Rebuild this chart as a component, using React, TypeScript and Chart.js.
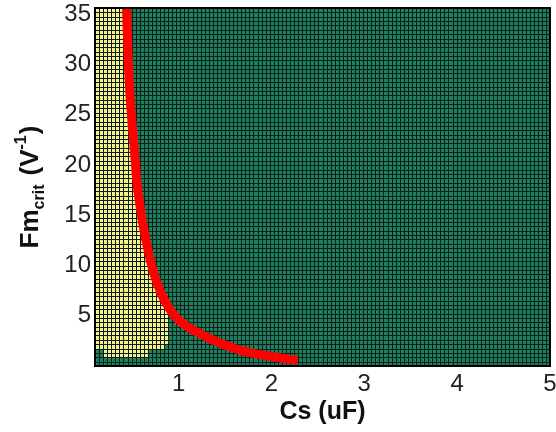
import React, { useEffect, useRef } from "react";
import { Chart, registerables } from "chart.js";

Chart.register(...registerables);

// ---- axis ranges & ticks ----
const xMin = 0.1;
const xMax = 5;
const yMin = 0;
const yMax = 35.6;
const xTicks = [1, 2, 3, 4, 5];
const yTicks = [5, 10, 15, 20, 25, 30, 35];

// ---- grid resolution of the map ----
const gridCols = 112;
const gridRows = 82;

// ---- yellow (stable) region, per Fm band: top, bottom, left Cs, right Cs ----
const bandTop = [35.6, 32, 28, 25, 22, 19, 17, 15, 13, 11.5, 10, 9, 8, 7, 6, 4.5, 2.2, 1.6];
const bandBottom = [32, 28, 25, 22, 19, 17, 15, 13, 11.5, 10, 9, 8, 7, 6, 4.5, 2.2, 1.6, 0.8];
const bandLeft = [0.1, 0.1, 0.1, 0.1, 0.1, 0.1, 0.1, 0.1, 0.1, 0.1, 0.1, 0.1, 0.1, 0.1, 0.1, 0.1, 0.1, 0.18];
const bandRight = [0.42, 0.44, 0.46, 0.48, 0.5, 0.53, 0.56, 0.59, 0.63, 0.67, 0.71, 0.75, 0.79, 0.84, 0.87, 0.9, 0.85, 0.67];

// ---- red critical curve ----
const curveCs = [0.44, 0.46, 0.48, 0.52, 0.55, 0.6, 0.66, 0.71, 0.77, 0.85, 0.94, 1.05, 1.23, 1.44, 1.73, 2.0, 2.28];
const curveFm = [35.6, 30, 26.5, 22, 18.5, 15, 12, 10, 8.2, 6.5, 5.2, 4.2, 3.2, 2.3, 1.4, 0.95, 0.55];

const FONT = '"Liberation Sans", Arial, Helvetica, sans-serif';
const GREEN = "#1f8060";
const YELLOW = "#f6f18e";
const LINE = "#0b1f18";

function isYellow(cx: number, cy: number) {
  for (let k = 0; k < bandTop.length; k++) {
    if (cy < bandTop[k] && cy >= bandBottom[k] && cx >= bandLeft[k] && cx < bandRight[k]) return true;
  }
  return false;
}

const mapPlugin = {
  id: "mapPlugin",
  beforeDatasetsDraw(chart: any) {
    const { ctx, scales } = chart;
    const xs = scales.x;
    const ys = scales.y;
    const dx = (xMax - xMin) / gridCols;
    const dy = (yMax - yMin) / gridRows;
    ctx.save();
    for (let i = 0; i < gridCols; i++) {
      const x0 = Math.round(xs.getPixelForValue(xMin + i * dx));
      const x1 = Math.round(xs.getPixelForValue(xMin + (i + 1) * dx));
      const cx = xMin + (i + 0.5) * dx;
      for (let j = 0; j < gridRows; j++) {
        const y0 = Math.round(ys.getPixelForValue(yMin + (j + 1) * dy));
        const y1 = Math.round(ys.getPixelForValue(yMin + j * dy));
        const cy = yMin + (j + 0.5) * dy;
        ctx.fillStyle = isYellow(cx, cy) ? YELLOW : GREEN;
        ctx.fillRect(x0, y0, x1 - x0, y1 - y0);
      }
    }
    ctx.strokeStyle = LINE;
    ctx.lineWidth = 1;
    ctx.beginPath();
    const top = ys.getPixelForValue(yMax);
    const bot = ys.getPixelForValue(yMin);
    const left = xs.getPixelForValue(xMin);
    const right = xs.getPixelForValue(xMax);
    for (let i = 0; i <= gridCols; i++) {
      const px = Math.round(xs.getPixelForValue(xMin + i * dx)) + 0.5;
      ctx.moveTo(px, top);
      ctx.lineTo(px, bot);
    }
    for (let j = 0; j <= gridRows; j++) {
      const py = Math.round(ys.getPixelForValue(yMin + j * dy)) + 0.5;
      ctx.moveTo(left, py);
      ctx.lineTo(right, py);
    }
    ctx.stroke();
    ctx.restore();
  },
  afterDatasetsDraw(chart: any) {
    const { ctx, chartArea } = chart;
    ctx.save();
    ctx.strokeStyle = "#000";
    ctx.lineWidth = 2;
    ctx.strokeRect(chartArea.left, chartArea.top, chartArea.right - chartArea.left, chartArea.bottom - chartArea.top);
    ctx.restore();
  },
  afterDraw(chart: any) {
    const { ctx, chartArea } = chart;
    ctx.save();
    ctx.fillStyle = "#111";
    // x title
    ctx.font = `bold 25px ${FONT}`;
    ctx.textAlign = "center";
    ctx.textBaseline = "middle";
    ctx.fillText("Cs (uF)", (chartArea.left + chartArea.right) / 2, 412);
    // y title with subscript / superscript
    const pieces = [
      { t: "Fm", s: 26, dy: 0, gap: 0 },
      { t: "crit", s: 16, dy: 6, gap: 0 },
      { t: "(V", s: 26, dy: 0, gap: 9 },
      { t: "-1", s: 16, dy: -12, gap: 0 },
      { t: ")", s: 26, dy: 0, gap: 1 },
    ];
    let total = 0;
    const widths: number[] = [];
    for (const p of pieces) {
      ctx.font = `bold ${p.s}px ${FONT}`;
      const w = ctx.measureText(p.t).width;
      widths.push(w);
      total += w + p.gap;
    }
    ctx.translate(29, (chartArea.top + chartArea.bottom) / 2);
    ctx.rotate(-Math.PI / 2);
    ctx.textAlign = "left";
    ctx.textBaseline = "alphabetic";
    let x = -total / 2;
    pieces.forEach((p, k) => {
      x += p.gap;
      ctx.font = `bold ${p.s}px ${FONT}`;
      ctx.fillText(p.t, x, 9 + p.dy);
      x += widths[k];
    });
    ctx.restore();
  },
};

export default function App() {
  const ref = useRef<HTMLCanvasElement | null>(null);
  useEffect(() => {
    if (!ref.current) return;
    const data = curveCs.map((c, i) => ({ x: c, y: curveFm[i] }));
    const chart = new Chart(ref.current, {
      type: "scatter",
      data: {
        datasets: [
          {
            data,
            showLine: true,
            borderColor: "#ff0000",
            backgroundColor: "#ff0000",
            borderWidth: 9,
            pointRadius: 0,
            cubicInterpolationMode: "monotone",
            borderCapStyle: "butt",
            clip: 0,
          } as any,
        ],
      },
      options: {
        animation: false,
        responsive: false,
        devicePixelRatio: 1,
        layout: { padding: { left: 0, right: 6, top: 8, bottom: 0 } },
        plugins: { legend: { display: false }, tooltip: { enabled: false } },
        scales: {
          x: {
            type: "linear",
            min: xMin,
            max: xMax,
            grid: { display: false, drawTicks: false },
            border: { display: false },
            ticks: { font: { family: FONT, size: 24 }, color: "#222", padding: 4, maxRotation: 0, autoSkip: false },
            afterBuildTicks: (s: any) => {
              s.ticks = xTicks.map((v) => ({ value: v }));
            },
            afterFit: (s: any) => {
              s.height = 66;
              s.paddingLeft = 0;
              s.paddingRight = 0;
            },
          },
          y: {
            type: "linear",
            min: yMin,
            max: yMax,
            grid: { display: false, drawTicks: false },
            border: { display: false },
            ticks: { font: { family: FONT, size: 24 }, color: "#222", padding: 4, autoSkip: false },
            afterBuildTicks: (s: any) => {
              s.ticks = yTicks.map((v) => ({ value: v }));
            },
            afterFit: (s: any) => {
              s.width = 95;
              s.paddingTop = 0;
              s.paddingBottom = 0;
            },
          },
        },
      },
      plugins: [mapPlugin],
    });
    return () => chart.destroy();
  }, []);
  return (
    <div style={{ position: "absolute", left: 0, top: 0, width: 556, height: 432, background: "#fff" }}>
      <canvas ref={ref} width={556} height={432} style={{ display: "block" }} />
    </div>
  );
}
